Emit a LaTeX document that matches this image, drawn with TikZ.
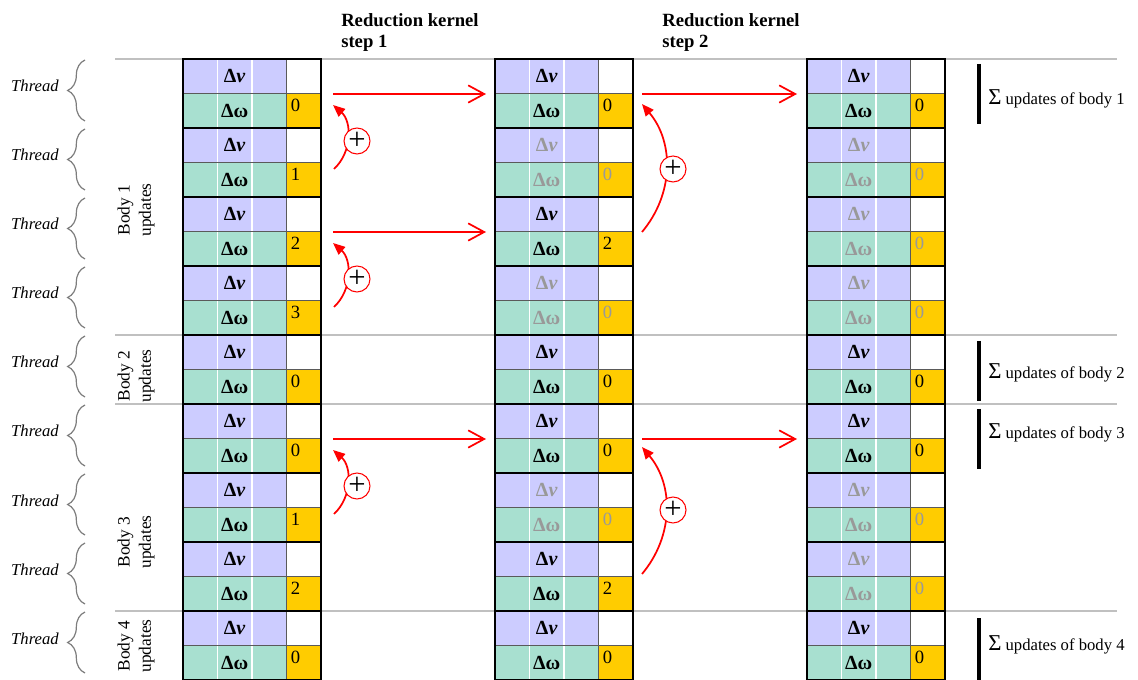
\documentclass[tikz,border=0pt]{standalone}
\usepackage{fontspec}
\setmainfont{Liberation Serif}
\usetikzlibrary{arrows.meta,decorations.pathreplacing}
\definecolor{lav}{RGB}{204,204,255}
\definecolor{tealc}{RGB}{168,224,208}
\definecolor{orng}{RGB}{255,204,0}
\definecolor{sepgray}{RGB}{192,192,192}
\definecolor{fadegray}{RGB}{153,153,153}
\definecolor{cellline}{RGB}{90,90,90}
\definecolor{bracegray}{RGB}{125,125,125}
\definecolor{arrred}{RGB}{255,0,0}

\tikzset{
  celltext/.style={inner sep=0pt, font=\fontsize{15}{18}\selectfont\bfseries},
  numtext/.style={inner sep=0pt, anchor=north west, font=\fontsize{14}{16}\selectfont},
  threadtext/.style={inner sep=0pt, anchor=base east, font=\fontsize{12.5}{15}\selectfont\itshape},
  bodytext/.style={inner sep=0pt, rotate=90, align=center, font=\fontsize{13}{16}\selectfont},
  titletext/.style={inner sep=0pt, anchor=north west, align=left, font=\fontsize{14}{15.5}\selectfont\bfseries},
  sumtext/.style={inner sep=0pt, anchor=base west, font=\fontsize{12.5}{15}\selectfont},
  sumbar/.style={line width=3.6pt, black},
  sepline/.style={line width=1.5pt, sepgray},
  bracestyle/.style={bracegray, line width=0.9pt, decorate, decoration={brace, amplitude=13pt}},
  movearrow/.style={arrred, line width=1.3pt, -{Straight Barb[length=12pt,width=13pt]}},
  addarrow/.style={arrred, line width=1.3pt, -{Triangle[length=9pt,width=7.5pt]}},
  plusnode/.style={circle, draw=arrred, line width=0.8pt, fill=white, minimum size=19.5pt, inner sep=0pt, font=\fontsize{23}{23}\selectfont}
}

% #1 name prefix, #2 x, #3 y top, #4 number, #5 text colour
\newcommand\tpair[5]{%
  \fill[lav] (#2,#3) rectangle ++(103.5,34.5);
  \fill[white] (#2+103.5,#3) rectangle ++(34.5,34.5);
  \fill[tealc] (#2,#3+34.5) rectangle ++(103.5,34.5);
  \fill[orng] (#2+103.5,#3+34.5) rectangle ++(34.5,34.5);
  \draw[white, line width=1.1pt] (#2+34.5,#3) -- ++(0,69) (#2+69,#3) -- ++(0,69);
  \draw[cellline, line width=0.6pt] (#2,#3+34.5) -- ++(138,0) (#2+103.5,#3) -- ++(0,69);
  \draw[black, line width=1.4pt] (#2,#3) rectangle ++(138,69);
  \node[celltext, text=#5] (#1v) at (#2+51.75,#3+17.25) {Δ\textit{ν}};
  \node[celltext, text=#5] (#1w) at (#2+51.75,#3+51.75) {Δω};
  \node[numtext, text=#5] (#1n) at (#2+107.5,#3+39.5) {#4};
}

\begin{document}
\begin{tikzpicture}[x=0.75pt, y=-0.75pt]
\useasboundingbox (0,0) rectangle (1138,680);

% separators
\foreach \yy in {59,335,404,611} {
  \draw[sepline] (115,\yy) -- (1117,\yy);
}

% columns
\foreach \k/\n/\c in {1/0/black,2/1/black,3/2/black,4/3/black,5/0/black,6/0/black,7/1/black,8/2/black,9/0/black} {
  \pgfmathsetmacro\yt{59+69*(\k-1)}
  \tpair{a\k}{183}{\yt}{\n}{\c}
}
\foreach \k/\n/\c in {1/0/black,2/0/fadegray,3/2/black,4/0/fadegray,5/0/black,6/0/black,7/0/fadegray,8/2/black,9/0/black} {
  \pgfmathsetmacro\yt{59+69*(\k-1)}
  \tpair{b\k}{495}{\yt}{\n}{\c}
}
\foreach \k/\n/\c in {1/0/black,2/0/fadegray,3/0/fadegray,4/0/fadegray,5/0/black,6/0/black,7/0/fadegray,8/0/fadegray,9/0/black} {
  \pgfmathsetmacro\yt{59+69*(\k-1)}
  \tpair{c\k}{807}{\yt}{\n}{\c}
}

% thread braces
\foreach \k in {1,...,9} {
  \pgfmathsetmacro\yt{59+69*(\k-1)}
  \draw[bracestyle] (85,\yt+62) -- (85,\yt+1);
  \node[threadtext] (th\k) at (59,\yt+33) {Thread};
}

% body labels
\node[bodytext] (body1) at (136,210) {Body 1\\updates};
\node[bodytext] (body2) at (136,376) {Body 2\\updates};
\node[bodytext] (body3) at (136,542) {Body 3\\updates};
\node[bodytext] (body4) at (136,646) {Body 4\\updates};

% titles
\node[titletext] (title1) at (341,13.5) {Reduction kernel\\step 1};
\node[titletext] (title2) at (662,13.5) {Reduction kernel\\step 2};

% sums
\draw[sumbar] (979,64) -- (979,124);
\draw[sumbar] (979,341) -- (979,401);
\draw[sumbar] (979,409) -- (979,469);
\draw[sumbar] (979,618) -- (979,682);
\node[sumtext] (sum1) at (988,105) {{\fontsize{17}{17}\selectfont Σ} updates of body 1};
\node[sumtext] (sum2) at (988,379) {{\fontsize{17}{17}\selectfont Σ} updates of body 2};
\node[sumtext] (sum3) at (988,439) {{\fontsize{17}{17}\selectfont Σ} updates of body 3};
\node[sumtext] (sum4) at (988,650) {{\fontsize{17}{17}\selectfont Σ} updates of body 4};

% step 1 straight arrows
\coordinate (m1s) at (333,94);  \coordinate (m1e) at (486,94);
\coordinate (m2s) at (333,232); \coordinate (m2e) at (486,232);
\coordinate (m3s) at (333,439); \coordinate (m3e) at (486,439);
\draw[movearrow] (m1s) -- (m1e);
\draw[movearrow] (m2s) -- (m2e);
\draw[movearrow] (m3s) -- (m3e);
% step 2 straight arrows
\coordinate (n1s) at (642,94);  \coordinate (n1e) at (797,94);
\coordinate (n2s) at (642,439); \coordinate (n2e) at (797,439);
\draw[movearrow] (n1s) -- (n1e);
\draw[movearrow] (n2s) -- (n2e);

% step 1 add arrows
\coordinate (p1s) at (334,169); \coordinate (p1e) at (333,105);
\coordinate (p2s) at (334,307); \coordinate (p2e) at (333,243);
\coordinate (p3s) at (334,514); \coordinate (p3e) at (333,450);
\draw[addarrow] (p1s) to[bend right=48] (p1e);
\draw[addarrow] (p2s) to[bend right=48] (p2e);
\draw[addarrow] (p3s) to[bend right=48] (p3e);
\node[plusnode] (plus1) at (357,141) {+};
\node[plusnode] (plus2) at (357,279) {+};
\node[plusnode] (plus3) at (357,486) {+};
% step 2 add arrows
\coordinate (q1s) at (642,232); \coordinate (q1e) at (642,104);
\coordinate (q2s) at (642,574); \coordinate (q2e) at (642,447);
\draw[addarrow] (q1s) to[bend right=40] (q1e);
\draw[addarrow] (q2s) to[bend right=40] (q2e);
\node[plusnode] (plus4) at (673,169) {+};
\node[plusnode] (plus5) at (673,510) {+};
\end{tikzpicture}
\end{document}
